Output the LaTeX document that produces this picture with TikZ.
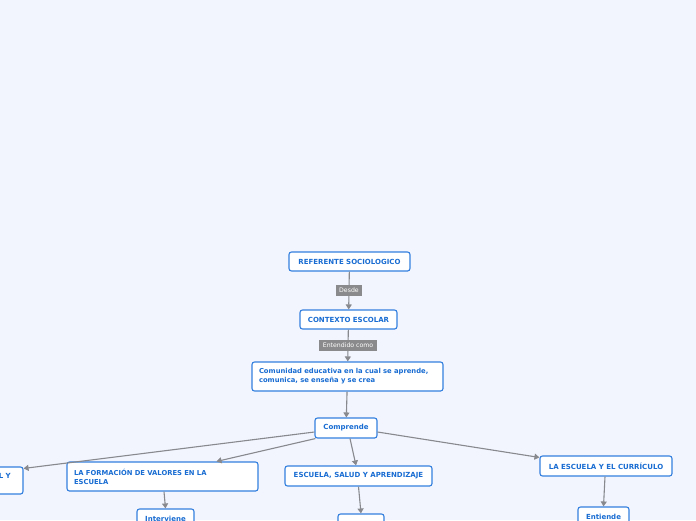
\documentclass[tikz,border=0pt]{standalone}
\usepackage{fontspec}
\setmainfont{DejaVu Sans}
\usetikzlibrary{arrows.meta}
\definecolor{bgc}{RGB}{242,245,254}
\definecolor{bordc}{RGB}{52,128,222}
\definecolor{txtc}{RGB}{24,108,210}
\definecolor{arrc}{RGB}{135,137,142}
\definecolor{labc}{RGB}{138,138,140}
\tikzset{
  topic/.style={draw=bordc, line width=1.1pt, fill=white, rounded corners=2.5pt,
    font=\fontsize{7}{8.8}\selectfont\bfseries, text=txtc, inner sep=0pt, align=center},
  wide/.style={minimum width=191pt, minimum height=29pt, text width=177pt, align=left,
    inner xsep=7pt, font=\fontsize{6.8}{9.2}\selectfont\bfseries},
  conn/.style={draw=arrc, line width=1.1pt, -{Triangle[length=5pt,width=6pt]}},
  lab/.style={fill=labc, text=white, font=\fontsize{6.2}{7}\selectfont, inner xsep=3.5pt,
    inner ysep=0pt, minimum height=11.5pt}
}
\begin{document}
\begin{tikzpicture}[x=1pt,y=-1pt]
\useasboundingbox (0,0) rectangle (696,520);
\fill[bgc] (0,0) rectangle (696,520);
\clip (0,0) rectangle (696,520);

\node[topic, minimum width=121pt, minimum height=19pt] (ref) at (349.5,261.5) {REFERENTE SOCIOLOGICO};
\node[topic, minimum width=97pt, minimum height=19pt] (ctx) at (348.5,319.5) {CONTEXTO ESCOLAR};
\node[topic, wide] (com) at (347.5,376.5) {Comunidad educativa en la cual se aprende,\\comunica, se enseña y se crea};
\node[topic, minimum width=62pt, minimum height=20pt] (comp) at (346,428) {Comprende};
\node[topic, minimum width=160pt, minimum height=27pt] (left) at (-57,480.5) {};
\node[font=\fontsize{7}{8.8}\selectfont\bfseries, text=txtc, anchor=east, inner sep=0pt] (lefttxt) at (11,476) {DESARROLLO INTEGRAL Y};
\node[topic, wide] (form) at (162.5,476.5) {LA FORMACIÓN DE VALORES EN LA\\ESCUELA};
\node[topic, minimum width=147pt, minimum height=20pt] (esc) at (358.5,476) {ESCUELA, SALUD Y APRENDIZAJE};
\node[topic, minimum width=132pt, minimum height=20pt] (cur) at (606,466) {LA ESCUELA Y EL CURRÍCULO};
\node[topic, minimum width=57pt, minimum height=20pt] (interv) at (165.5,519) {Interviene};
\node[topic, minimum width=46pt, minimum height=20pt] (mid) at (361,524) {};
\node[topic, minimum width=51pt, minimum height=20pt] (ent) at (603.5,517) {Entiende};

\draw[conn] (ref) -- node[lab] {Desde} (ctx);
\draw[conn] (ctx) -- node[lab] {Entendido como} (com);
\draw[conn] (com) -- (comp);
\draw[conn] ([yshift=-4pt]comp.west) -- ([yshift=-2pt]left.north east);
\draw[conn] ([xshift=1pt]comp.south west) -- ([xshift=54pt]form.north);
\draw[conn] ([xshift=4pt]comp.south) -- ([xshift=-2.5pt]esc.north);
\draw[conn] ([yshift=-4pt]comp.east) -- ([yshift=-2pt]cur.north west);
\draw[conn] ([xshift=1.5pt]form.south) -- (interv.north);
\draw[conn] (esc.south) -- (mid.north);
\draw[conn] ([xshift=-1pt]cur.south) -- (ent.north);
\end{tikzpicture}
\end{document}
